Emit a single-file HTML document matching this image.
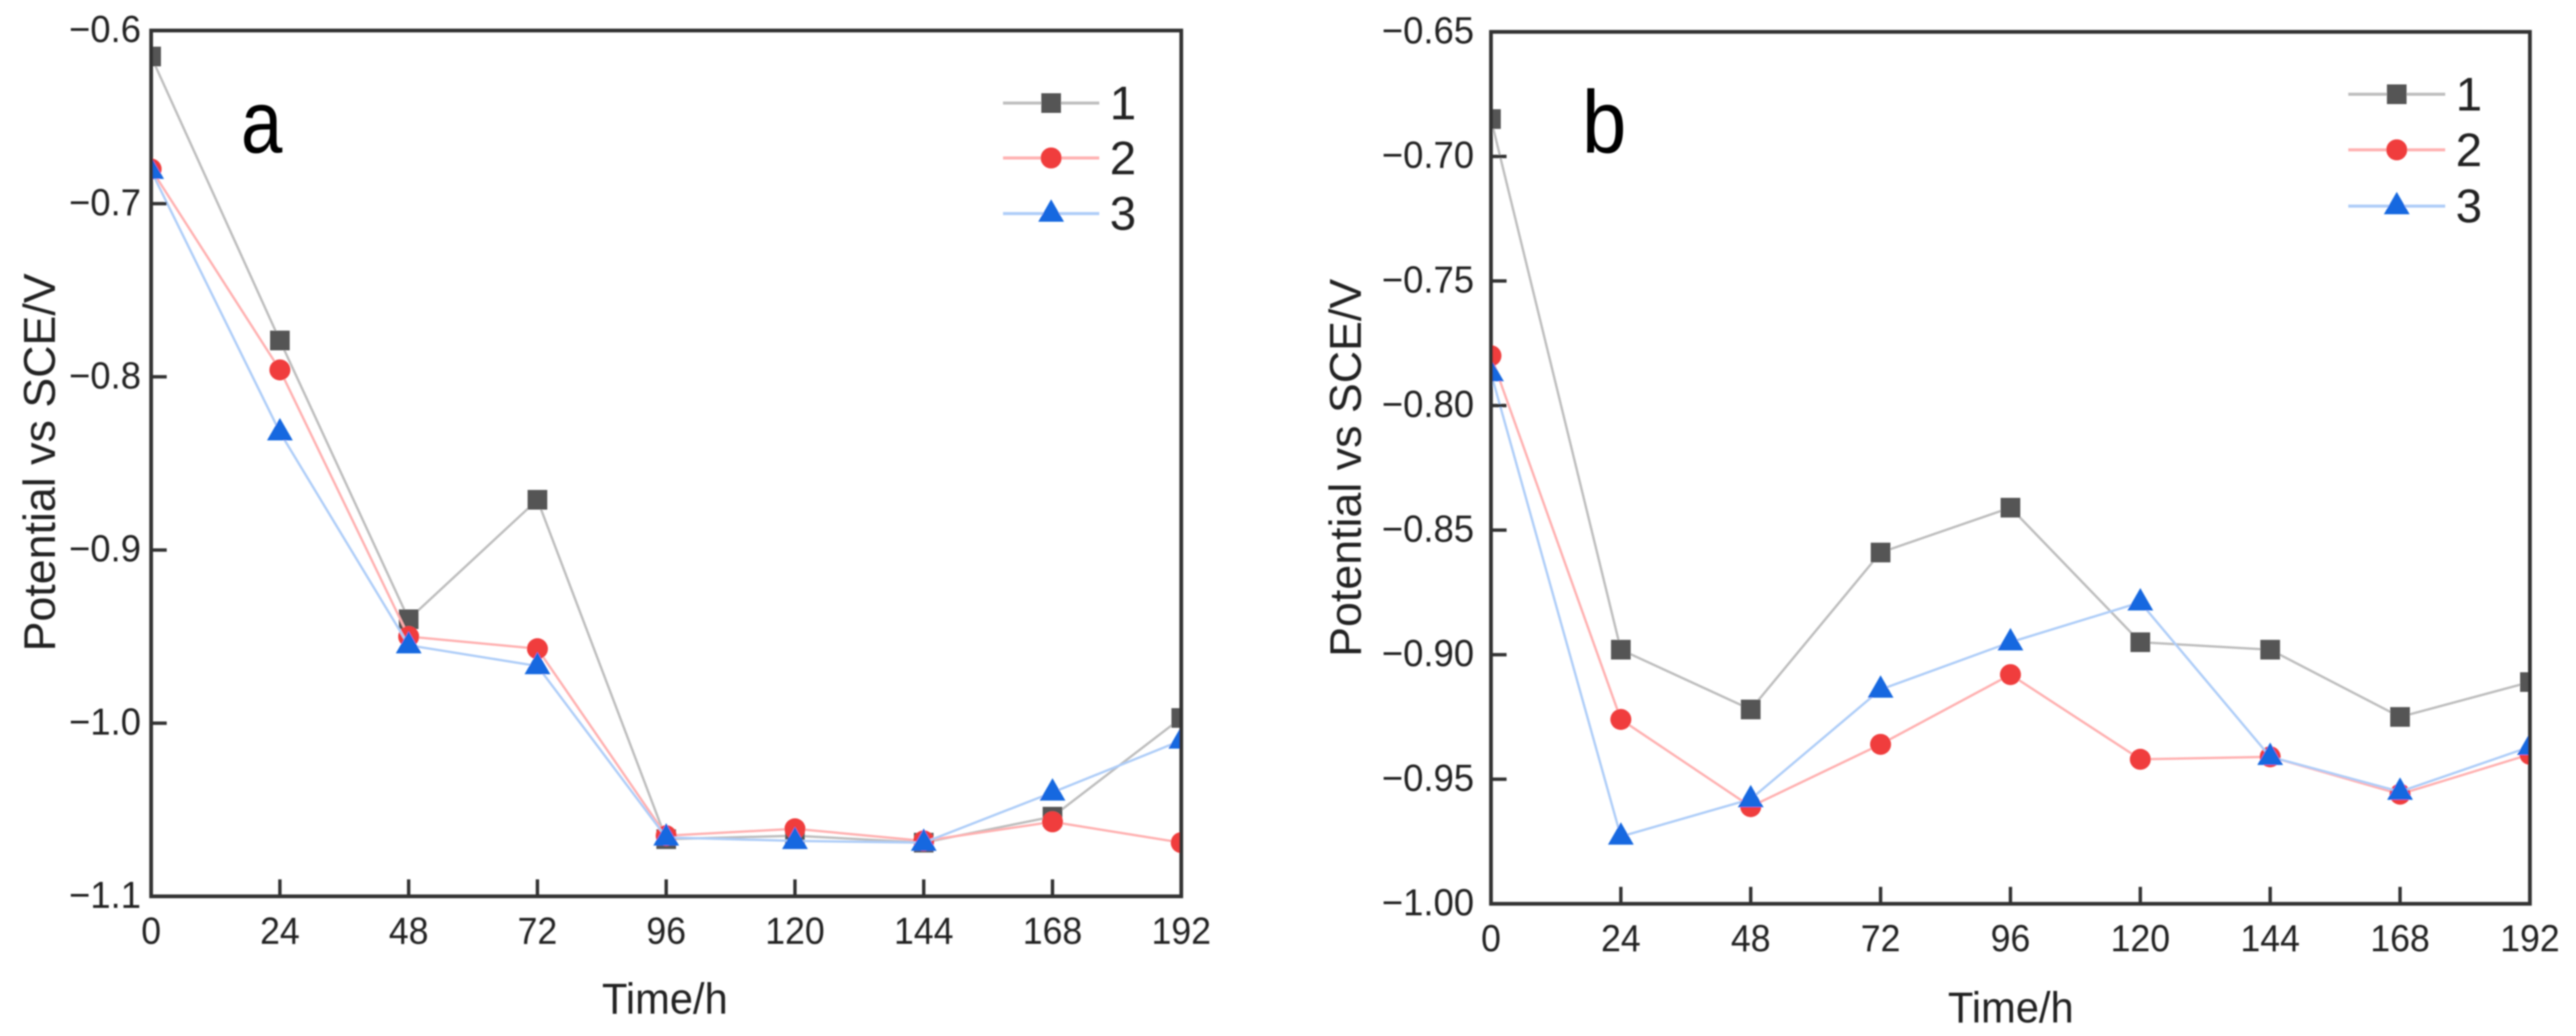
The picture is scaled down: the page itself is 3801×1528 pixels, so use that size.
<!DOCTYPE html>
<html lang="en">
<head>
<meta charset="utf-8">
<title>Potential vs time charts</title>
<style>
html,body{margin:0;padding:0;background:#fff;width:3801px;height:1528px;overflow:hidden}
svg{display:block;position:absolute;left:0;top:0}
text{font-family:"Liberation Sans",Arial,sans-serif;fill:#222}
</style>
</head>
<body>
<svg id="figure" xmlns="http://www.w3.org/2000/svg" width="3801" height="1528" viewBox="0 0 3801 1528">
  <defs>
    <filter id="soft" x="-2%" y="-2%" width="104%" height="104%"><feGaussianBlur stdDeviation="1"/></filter>
    <clipPath id="clip-a"><rect x="223" y="45" width="1520" height="1277"/></clipPath>
    <clipPath id="clip-b"><rect x="2200" y="47" width="1533" height="1286"/></clipPath>
  </defs>
  <g id="root" filter="url(#soft)">
    <text transform="translate(386,225) scale(.84,1)" text-anchor="middle" font-size="131" style="fill:#000">a</text>
    <text transform="translate(2367,225) scale(.9,1)" text-anchor="middle" font-size="131" style="fill:#000">b</text>
    <text transform="translate(981,1495) scale(.96,1)" text-anchor="middle" font-size="64">Time/h</text>
    <text transform="translate(2967,1508) scale(.96,1)" text-anchor="middle" font-size="64">Time/h</text>
    <text transform="translate(81,682) rotate(-90)" text-anchor="middle" font-size="66">Potential vs SCE/V</text>
    <text transform="translate(2008,690) rotate(-90)" text-anchor="middle" font-size="66">Potential vs SCE/V</text>
  </g>
</svg>
<script>
// ---- chart data ----
var timeTicks = [0, 24, 48, 72, 96, 120, 144, 168, 192];
var timeLabels = ['0', '24', '48', '72', '96', '120', '144', '168', '192'];
var legendNames = ['1', '2', '3'];

var yTicksA = [-0.6, -0.7, -0.8, -0.9, -1.0, -1.1];
var yLabelsA = ['\u22120.6', '\u22120.7', '\u22120.8', '\u22120.9', '\u22121.0', '\u22121.1'];
var seriesA1 = [-0.615, -0.779, -0.940, -0.871, -1.067, -1.065, -1.069, -1.054, -0.997];
var seriesA2 = [-0.680, -0.796, -0.950, -0.957, -1.065, -1.061, -1.068, -1.057, -1.069];
var seriesA3 = [-0.681, -0.832, -0.955, -0.967, -1.066, -1.068, -1.069, -1.040, -1.010];

var yTicksB = [-0.65, -0.70, -0.75, -0.80, -0.85, -0.90, -0.95, -1.00];
var yLabelsB = ['\u22120.65', '\u22120.70', '\u22120.75', '\u22120.80', '\u22120.85', '\u22120.90', '\u22120.95', '\u22121.00'];
var seriesB1 = [-0.685, -0.898, -0.922, -0.859, -0.841, -0.895, -0.898, -0.925, -0.911];
var seriesB2 = [-0.780, -0.926, -0.961, -0.936, -0.908, -0.942, -0.941, -0.956, -0.940];
var seriesB3 = [-0.787, -0.973, -0.958, -0.914, -0.895, -0.879, -0.941, -0.955, -0.937];

// ---- drawing ----
var NS = 'http://www.w3.org/2000/svg';
var root = document.getElementById('root');
var LINE = ['#bdbdbd', '#ffb0b0', '#aecdf8'];
var FILL = ['#555555', '#f03c3e', '#1668e0'];
var AXIS = '#333333';

function make(tag, attrs, parent) {
  var el = document.createElementNS(NS, tag);
  for (var k in attrs) { el.setAttribute(k, attrs[k]); }
  parent.appendChild(el);
  return el;
}

function drawMarker(kind, cx, cy, parent, name) {
  var el;
  if (kind === 0) {
    el = make('rect', {x: cx - 14.5, y: cy - 14.5, width: 29, height: 29, fill: FILL[0]}, parent);
  } else if (kind === 1) {
    el = make('circle', {cx: cx, cy: cy, r: 15.5, fill: FILL[1]}, parent);
  } else {
    el = make('polygon', {points: (cx) + ',' + (cy - 21) + ' ' + (cx + 19) + ',' + (cy + 12) + ' ' + (cx - 19) + ',' + (cy + 12), fill: FILL[2]}, parent);
  }
  
  
  return el;
}

function drawPanel(p) {
  var xOf = function (t) { return p.left + (t - p.xMin) / (p.xMax - p.xMin) * (p.right - p.left); };
  var yOf = function (v) { return p.top + (p.yMax - v) / (p.yMax - p.yMin) * (p.bottom - p.top); };

  var panel = make('g', {}, root);
  
  

  var plot = make('g', {'clip-path': 'url(#clip-' + p.id + ')'}, panel);
  
  

  p.series.forEach(function (vals, s) {
    var pts = vals.map(function (v, i) { return xOf(timeTicks[i]) + ',' + yOf(v); }).join(' ');
    var line = make('polyline', {points: pts, fill: 'none', stroke: LINE[s], 'stroke-width': 3.5}, plot);
    
    
    vals.forEach(function (v, i) {
      drawMarker(s, xOf(timeTicks[i]), yOf(v), plot, 'series-' + legendNames[s] + '-point-' + timeLabels[i] + '-' + p.id);
    });
  });

  var frame = make('rect', {x: p.left, y: p.top, width: p.right - p.left, height: p.bottom - p.top, fill: 'none', stroke: AXIS, 'stroke-width': 5.5}, panel);
  
  

  timeTicks.forEach(function (t, i) {
    var x = xOf(t);
    if (i > 0 && i < timeTicks.length - 1) {
      var tick = make('line', {x1: x, x2: x, y1: p.bottom, y2: p.bottom - 25, stroke: AXIS, 'stroke-width': 5}, panel);
      
      
    }
    var lab = make('text', {transform: 'translate(' + x + ',' + p.xLabelY + ') scale(.94,1)', 'text-anchor': 'middle', 'font-size': 56}, panel);
    lab.textContent = timeLabels[i];
    
    
  });

  p.yTicks.forEach(function (v, i) {
    var y = yOf(v);
    if (i > 0 && i < p.yTicks.length - 1) {
      var tick = make('line', {x1: p.left, x2: p.left + 23, y1: y, y2: y, stroke: AXIS, 'stroke-width': 5}, panel);
      
      
    }
    var lab = make('text', {transform: 'translate(' + p.yLabelX + ',' + (y + 17) + ') scale(.96,1)', 'text-anchor': 'end', 'font-size': 56}, panel);
    lab.textContent = p.yLabels[i];
    
    
  });

  var legend = make('g', {}, panel);
  
  
  legendNames.forEach(function (n, s) {
    var y = p.legendY[s];
    var entry = make('g', {}, legend);
    
    
    make('line', {x1: p.legendX0, x2: p.legendX1, y1: y, y2: y, stroke: LINE[s], 'stroke-width': 4.5}, entry);
    drawMarker(s, (p.legendX0 + p.legendX1) / 2, y, entry, 'legend-marker-' + n + '-' + p.id);
    var t = make('text', {x: p.legendTextX, y: y + 24, 'text-anchor': 'middle', 'font-size': 70}, entry);
    t.textContent = n;
  });
}

drawPanel({
  id: 'a', left: 223, right: 1743, top: 45, bottom: 1322,
  xMin: 0, xMax: 192, yMin: -1.1, yMax: -0.6,
  yTicks: yTicksA, yLabels: yLabelsA,
  series: [seriesA1, seriesA2, seriesA3],
  xLabelY: 1392, yLabelX: 208,
  legendY: [152, 233, 315], legendX0: 1480, legendX1: 1622, legendTextX: 1657
});
drawPanel({
  id: 'b', left: 2200, right: 3733, top: 47, bottom: 1333,
  xMin: 0, xMax: 192, yMin: -1.0, yMax: -0.65,
  yTicks: yTicksB, yLabels: yLabelsB,
  series: [seriesB1, seriesB2, seriesB3],
  xLabelY: 1403, yLabelX: 2175,
  legendY: [139, 221, 304], legendX0: 3465, legendX1: 3608, legendTextX: 3643
});
</script>
</body>
</html>
